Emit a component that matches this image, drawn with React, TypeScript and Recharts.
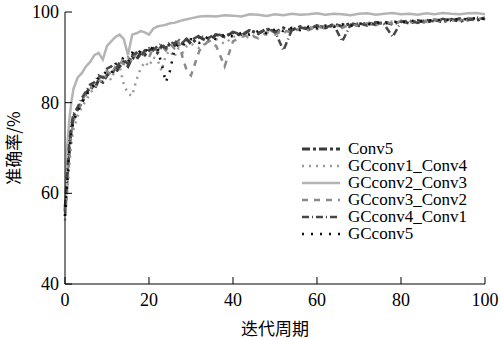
import React from "react";
import { LineChart, Line, XAxis, YAxis } from "recharts";

const epochs = [
  0, 0.5, 1, 1.5, 2, 3, 4, 5, 6, 7, 8, 9, 10, 11, 12, 13, 14, 15, 16, 17, 18, 19, 20,
  21, 22, 23, 24, 25, 26, 27, 28, 29, 30, 32, 34, 36, 38, 40, 42, 44, 46, 48, 50, 52,
  54, 56, 58, 60, 62, 64, 66, 68, 70, 72, 74, 76, 78, 80, 82, 84, 86, 88, 90, 92, 94,
  96, 98, 100,
];

const conv5 = [
  56, 63, 70, 74, 77, 78.5, 80, 82, 83.5, 83, 85, 84.5, 86, 87, 86.5, 88, 89, 88, 90,
  89.5, 91, 90.5, 91.5, 92, 91, 92.5, 92, 93, 92.5, 93.5, 93, 94, 93, 94.5, 93.5, 95,
  94.5, 95.5, 94.8, 96, 95.2, 96.3, 95.5, 96.5, 96, 96.8, 96.2, 97, 96.5, 97.3, 96.8,
  97.5, 97, 97.6, 97.2, 97.8, 97.3, 98, 97.5, 98.1, 97.7, 98.3, 97.8, 98.4, 97.9, 98.5,
  98.2, 98.6,
];

const gc1conv4 = [
  54, 60, 66, 71, 74, 77, 79, 80.5, 82, 83.5, 84, 85.5, 86, 85, 87.5, 88, 84, 82, 81.5,
  85, 87.5, 89, 88, 90, 89.5, 87, 90.5, 91.5, 90, 92, 91, 92.5, 93, 92, 93.5, 94, 93,
  94.5, 95, 94.2, 95.5, 95, 96, 95.3, 96.4, 96, 96.8, 96.2, 97, 96.6, 97.3, 96.9, 97.5,
  97.1, 97.7, 97.4, 97.9, 97.5, 98, 97.7, 98.2, 97.9, 98.3, 98, 98.5, 98.1, 98.6, 98.4,
];

const gc2conv3 = [
  55, 70, 76, 80, 83, 85.5, 86.5, 88, 89, 90.5, 91, 89.5, 92.5, 93.5, 94.5, 95, 94,
  90.5, 95, 95.3, 95.8, 95.5, 95, 96.3, 96.8, 97, 97.2, 97.5, 97.6, 97.9, 98.2, 98.4,
  98.6, 99, 99.1, 99, 99.3, 99.2, 99, 99.5, 99.4, 99.1, 99.5, 99.3, 99.6, 99.4, 99.5,
  99.7, 99.4, 99.6, 99.5, 99.3, 99.6, 99.7, 99.4, 99.6, 99.8, 99.5, 99.6, 99.4, 99.7,
  99.5, 99.8, 99.6, 99.5, 99.7, 99.8, 99.5,
];

const gc3conv2 = [
  55, 61, 68, 73, 76, 78, 80.5, 82, 83, 84.5, 85, 86.5, 87, 86, 88, 89, 88.5, 90, 89,
  91, 90.5, 91.5, 90, 92, 91.5, 92.5, 91.5, 93, 92, 93.5, 90, 87, 86, 91.5, 93.5, 92.5,
  88, 93.5, 94.5, 95, 94.2, 95.5, 95, 96, 95.4, 96.5, 96, 96.8, 96.3, 97, 96.5, 97.3,
  96.9, 97.5, 97.1, 97.8, 97.4, 98, 97.6, 98.2, 97.8, 98.4, 98, 98.5, 98.2, 98.7, 98.3,
  98.8,
];

const gc4conv1 = [
  57, 64, 71, 75, 77.5, 79, 81, 82.5, 84, 84.5, 86, 85.5, 87.5, 88, 87, 89, 89.5, 88.5,
  90.5, 91, 90, 91.5, 92, 91.5, 92.5, 93, 92, 93.5, 93, 94, 93.2, 94.2, 93.8, 94.8,
  94.2, 95.2, 94.6, 95.6, 95, 96, 95.4, 96.2, 95.8, 91.5, 96, 96.6, 96.2, 97, 96.6,
  97.2, 93.5, 97.2, 97.5, 97, 97.8, 97.3, 94.5, 97.8, 98.1, 97.6, 98.3, 97.9, 98.5, 98,
  98.6, 98.2, 98.8, 98.4,
];

const gcconv5 = [
  55, 62, 69, 73, 76, 78, 80, 81.5, 83, 84, 85.5, 86, 87, 86.5, 88.5, 89, 90, 89, 91,
  90.5, 91.5, 92, 91, 92.5, 92, 88.5, 84.5, 87, 91.5, 93, 92.5, 93.5, 94, 93.2, 94.5,
  94, 95, 94.6, 95.4, 95, 95.8, 95.3, 96.2, 95.8, 96.5, 96, 96.8, 96.4, 97, 96.7, 97.3,
  96.9, 97.5, 97.2, 97.7, 97.4, 98, 97.6, 98.2, 97.8, 98.3, 98, 98.5, 98.1, 98.6, 98.3,
  98.7, 98.5,
];

const xTicks = [0, 20, 40, 60, 80, 100];
const yTicks = [40, 60, 80, 100];

const series = [
  { key: "conv5", name: "Conv5", color: "#3a3a3a", width: 3, dash: "8 3 3 3" },
  { key: "gc1", name: "GCconv1_Conv4", color: "#9a9a9a", width: 2.5, dash: "2 5" },
  { key: "gc2", name: "GCconv2_Conv3", color: "#b4b4b4", width: 2.5, dash: "" },
  { key: "gc3", name: "GCconv3_Conv2", color: "#8a8a8a", width: 2.5, dash: "6 6" },
  { key: "gc4", name: "GCconv4_Conv1", color: "#474747", width: 2.5, dash: "7 3 1 3" },
  { key: "gc5", name: "GCconv5", color: "#111", width: 2.5, dash: "2 7" },
];

const data = epochs.map((e, i) => ({
  epoch: e,
  conv5: conv5[i],
  gc1: gc1conv4[i],
  gc2: gc2conv3[i],
  gc3: gc3conv2[i],
  gc4: gc4conv1[i],
  gc5: gcconv5[i],
}));

const serif = "'Liberation Serif', 'Times New Roman', serif";

const XTick = ({ x, y, payload }: any) => (
  <g>
    <line x1={x} y1={y} x2={x} y2={y - 7} stroke="#000" strokeWidth={1} />
    <text x={x} y={y + 22} textAnchor="middle" fontFamily={serif} fontSize={18} fill="#000">
      {payload.value}
    </text>
  </g>
);

const YTick = ({ x, y, payload }: any) => (
  <g>
    <line x1={x} y1={y} x2={x + 7} y2={y} stroke="#000" strokeWidth={1} />
    <text x={x - 6} y={y + 6} textAnchor="end" fontFamily={serif} fontSize={18} fill="#000">
      {payload.value}
    </text>
  </g>
);

// legend drawn outside recharts so it doesn't shrink the plot
const LegendBox = () => (
  <div
    style={{
      position: "absolute",
      left: 302,
      top: 140,
      fontFamily: serif,
      fontSize: 17,
      color: "#000",
    }}
  >
    {series.map((s) => (
      <div key={s.key} style={{ display: "flex", alignItems: "center", height: 17 }}>
        <svg width={40} height={8}>
          <line
            x1={0}
            y1={4}
            x2={38}
            y2={4}
            stroke={s.color}
            strokeWidth={s.width}
            strokeDasharray={s.dash || undefined}
          />
        </svg>
        <span style={{ marginLeft: 6, lineHeight: "17px", whiteSpace: "nowrap" }}>{s.name}</span>
      </div>
    ))}
  </div>
);

export default function App() {
  return (
    <div style={{ position: "absolute", left: 0, top: 0, width: 500, height: 339, background: "#fff" }}>
      <LineChart
        width={500}
        height={339}
        data={data}
        margin={{ top: 12, right: 15, bottom: 0, left: 0 }}
      >
        <XAxis
          dataKey="epoch"
          type="number"
          domain={[0, 100]}
          ticks={xTicks}
          tickLine={false}
          tickSize={0}
          tickMargin={0}
          tick={<XTick />}
          height={55}
          stroke="#000"
          label={{
            value: "迭代周期",
            position: "insideBottom",
            offset: 4,
            fill: "#000",
            fontSize: 17,
            fontFamily: "'Noto Sans CJK SC', sans-serif",
          }}
        />
        <YAxis
          type="number"
          domain={[40, 100]}
          ticks={yTicks}
          tickLine={false}
          tickSize={0}
          tickMargin={0}
          tick={<YTick />}
          width={65}
          stroke="#000"
          label={{
            value: "准确率/%",
            angle: -90,
            position: "insideLeft",
            offset: 14,
            fill: "#000",
            fontSize: 17,
            fontFamily: "'Noto Sans CJK SC', sans-serif",
            style: { textAnchor: "middle" },
          }}
        />
        {series.map((s) => (
          <Line
            key={s.key}
            dataKey={s.key}
            name={s.name}
            type="linear"
            stroke={s.color}
            strokeWidth={s.width}
            strokeDasharray={s.dash || undefined}
            dot={false}
            activeDot={false}
            isAnimationActive={false}
          />
        ))}
      </LineChart>
      <LegendBox />
    </div>
  );
}
